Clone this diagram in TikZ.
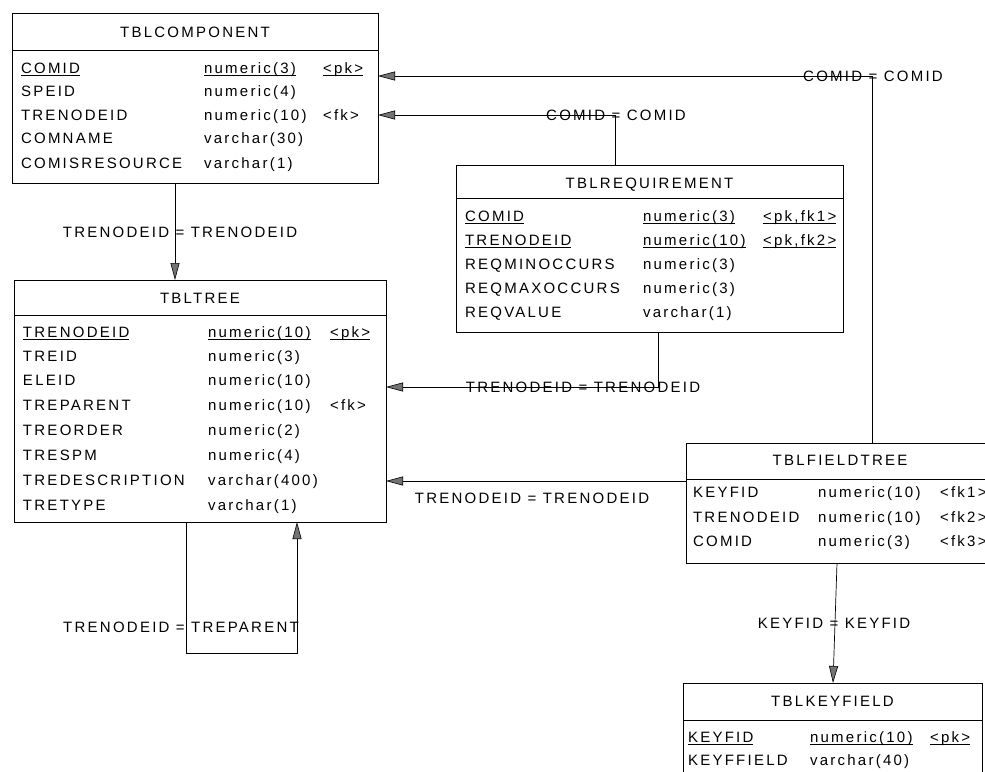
\documentclass[tikz,border=0pt]{standalone}
\usepackage{fontspec}
\setmainfont{Liberation Sans}[LetterSpace=15]
\usetikzlibrary{arrows.meta}

% underline at a fixed distance below the baseline
\newcommand\keyul[1]{\setbox0\hbox{#1}\rlap{\rule[-2.6pt]{\wd0}{0.7pt}}\box0}
% one row of a table: prefix, baseline, then three columns (x, text)
\newcommand\tblrow[8]{%
  \node[txt] (#1-a) at (#3,#2) {#4};
  \node[txt] (#1-b) at (#5,#2) {#6};
  \node[txt] (#1-c) at (#7,#2) {#8};}

\begin{document}
\begin{tikzpicture}[x=1pt,y=-1pt,
  every node/.style={inner sep=0pt, outer sep=0pt},
  tbl/.style={draw=black, line width=0.7pt, anchor=north west, rectangle},
  txt/.style={font=\fontsize{15}{18}\selectfont, anchor=base west},
  ttl/.style={txt, anchor=base},
  lbl/.style={font=\fontsize{15}{18}\selectfont, anchor=center},
  sepline/.style={draw=black, line width=0.7pt},
  rel/.style={draw=black, line width=0.7pt},
  tip/.style={-{Triangle[length=17pt,width=9pt,fill=black!55,line width=0.6pt]}}
]
\useasboundingbox (0,0) rectangle (985,771);
\clip (0,0) rectangle (985,771);

% ---------- TBLCOMPONENT ----------
\node[tbl, minimum width=366pt, minimum height=170pt] (comp) at (12,13) {};
\node[ttl] (comp-t) at (comp.north |- 0,37) {TBLCOMPONENT};
\draw[sepline] (comp.west |- 0,50) -- (comp.east |- 0,50);
\tblrow{comp1}{73}{21}{\keyul{COMID}}{204}{\keyul{numeric(3)}}{323}{\keyul{<pk>}}
\tblrow{comp2}{96}{21}{SPEID}{204}{numeric(4)}{323}{}
\tblrow{comp3}{120}{21}{TRENODEID}{204}{numeric(10)}{323}{<fk>}
\tblrow{comp4}{143}{21}{COMNAME}{204}{varchar(30)}{323}{}
\tblrow{comp5}{168}{21}{COMISRESOURCE}{204}{varchar(1)}{323}{}

% ---------- TBLTREE ----------
\node[tbl, minimum width=372pt, minimum height=242pt] (tree) at (14,280) {};
\node[ttl] (tree-t) at (tree.north |- 0,303) {TBLTREE};
\draw[sepline] (tree.west |- 0,315) -- (tree.east |- 0,315);
\tblrow{tree1}{337}{23}{\keyul{TRENODEID}}{208}{\keyul{numeric(10)}}{330}{\keyul{<pk>}}
\tblrow{tree2}{361}{23}{TREID}{208}{numeric(3)}{330}{}
\tblrow{tree3}{385}{23}{ELEID}{208}{numeric(10)}{330}{}
\tblrow{tree4}{410}{23}{TREPARENT}{208}{numeric(10)}{330}{<fk>}
\tblrow{tree5}{435}{23}{TREORDER}{208}{numeric(2)}{330}{}
\tblrow{tree6}{460}{23}{TRESPM}{208}{numeric(4)}{330}{}
\tblrow{tree7}{485}{23}{TREDESCRIPTION}{208}{varchar(400)}{330}{}
\tblrow{tree8}{510}{23}{TRETYPE}{208}{varchar(1)}{330}{}

% ---------- TBLREQUIREMENT ----------
\node[tbl, minimum width=387pt, minimum height=167pt] (req) at (456,165) {};
\node[ttl] (req-t) at (req.north |- 0,188) {TBLREQUIREMENT};
\draw[sepline] (req.west |- 0,198) -- (req.east |- 0,198);
\tblrow{req1}{221}{465}{\keyul{COMID}}{643}{\keyul{numeric(3)}}{763}{\keyul{<pk,fk1>}}
\tblrow{req2}{245}{465}{\keyul{TRENODEID}}{643}{\keyul{numeric(10)}}{763}{\keyul{<pk,fk2>}}
\tblrow{req3}{269}{465}{REQMINOCCURS}{643}{numeric(3)}{763}{}
\tblrow{req4}{293}{465}{REQMAXOCCURS}{643}{numeric(3)}{763}{}
\tblrow{req5}{317}{465}{REQVALUE}{643}{varchar(1)}{763}{}

% ---------- TBLFIELDTREE ----------
\node[tbl, minimum width=308pt, minimum height=120pt] (fldt) at (686,443) {};
\node[ttl] (fldt-t) at (fldt.north |- 0,465) {TBLFIELDTREE};
\draw[sepline] (fldt.west |- 0,479) -- (fldt.east |- 0,479);
\tblrow{fldt1}{497}{693}{KEYFID}{818}{numeric(10)}{940}{<fk1>}
\tblrow{fldt2}{522}{693}{TRENODEID}{818}{numeric(10)}{940}{<fk2>}
\tblrow{fldt3}{546}{693}{COMID}{818}{numeric(3)}{940}{<fk3>}

% ---------- TBLKEYFIELD ----------
\node[tbl, minimum width=299pt, minimum height=117pt] (keyf) at (683,683) {};
\node[ttl] (keyf-t) at (keyf.north |- 0,706) {TBLKEYFIELD};
\draw[sepline] (keyf.west |- 0,720) -- (keyf.east |- 0,720);
\tblrow{keyf1}{742}{688}{\keyul{KEYFID}}{810}{\keyul{numeric(10)}}{930}{\keyul{<pk>}}
\tblrow{keyf2}{765}{688}{KEYFFIELD}{810}{varchar(40)}{930}{}

% ---------- references ----------
% TBLFIELDTREE.COMID -> TBLCOMPONENT
\coordinate (c1) at (872,76);
\draw[rel,tip] (fldt.north -| c1) -- (c1) -- (comp.east |- c1);
\node[lbl] (l1) at (873,76) {COMID = COMID};

% TBLREQUIREMENT.COMID -> TBLCOMPONENT
\coordinate (c2) at (615,115);
\draw[rel,tip] (req.north -| c2) -- (c2) -- (comp.east |- c2);
\node[lbl] (l2) at (616,115) {COMID = COMID};

% TBLREQUIREMENT.TRENODEID -> TBLTREE
\coordinate (c3) at (658,387);
\draw[rel,tip] (req.south -| c3) -- (c3) -- (tree.east |- c3);
\node[lbl] (l3) at (583,387) {TRENODEID = TRENODEID};

% TBLFIELDTREE.TRENODEID -> TBLTREE
\coordinate (c4) at (0,481);
\draw[rel,tip] (fldt.west |- c4) -- (tree.east |- c4);
\node[lbl] (l4) at (532,498) {TRENODEID = TRENODEID};

% TBLCOMPONENT.TRENODEID -> TBLTREE
\coordinate (c5) at (175,0);
\draw[rel,tip] (comp.south -| c5) -- (tree.north -| c5);
\node[lbl] (l5) at (180,232) {TRENODEID = TRENODEID};

% TBLTREE.TREPARENT -> TBLTREE
\coordinate (c6a) at (186,653);
\coordinate (c6b) at (297,653);
\draw[rel,tip] (tree.south -| c6a) -- (c6a) -- (c6b) -- (tree.south -| c6b);
\node[lbl] (l6) at (181,627) {TRENODEID = TREPARENT};

% TBLFIELDTREE.KEYFID -> TBLKEYFIELD
\coordinate (c7a) at (837,0);
\coordinate (c7b) at (833,0);
\draw[rel,tip] (fldt.south -| c7a) -- (keyf.north -| c7b);
\node[lbl] (l7) at (834,623) {KEYFID = KEYFID};
\end{tikzpicture}
\end{document}
